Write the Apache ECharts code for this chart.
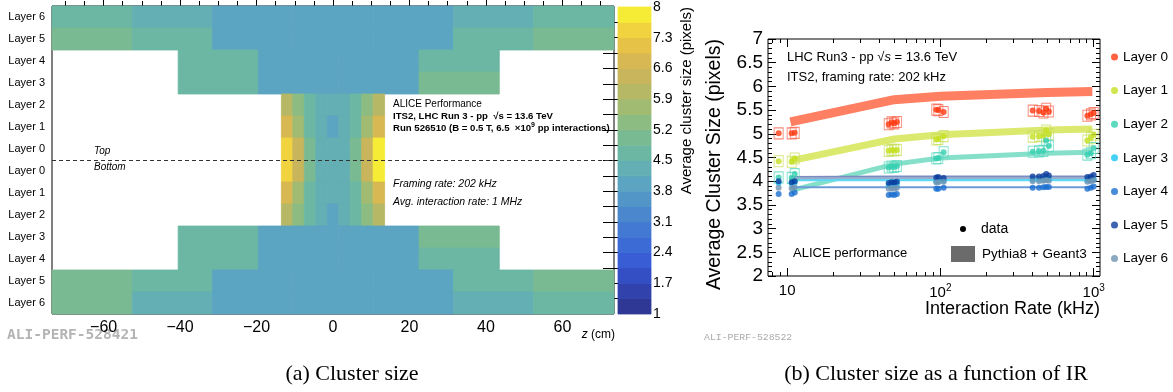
<!DOCTYPE html>
<html>
<head>
<meta charset="utf-8">
<script src="https://cdn.jsdelivr.net/npm/echarts@6.0.0/dist/echarts.min.js"></script>
<style>
  html, body { margin: 0; padding: 0; background: #fff; }
  #chart { width: 1173px; height: 392px; }
</style>
</head>
<body>
<div id="chart"></div>
<script>
// ---------- (a) taille moyenne des clusters, par couche et par z ----------

// lignes du haut vers le bas
const layerLabels = ['Layer 6', 'Layer 5', 'Layer 4', 'Layer 3', 'Layer 2', 'Layer 1', 'Layer 0',
                     'Layer 0', 'Layer 1', 'Layer 2', 'Layer 3', 'Layer 4', 'Layer 5', 'Layer 6'];

// bords des cellules en z (cm)
const edgesInner = [-13.5, -10.5, -7.5, -4.5, -1.5, 1.5, 4.5, 7.5, 10.5, 13.5];
const edgesMiddle = [-40.5, -19.5, 1.5, 22.5, 43.5];
const edgesOuter = [-73.5, -52.5, -31.5, -10.5, 10.5, 31.5, 52.5, 73.5];

// valeurs (pixels)
const top6 = [4.6, 4.3, 3.9, 3.9, 3.9, 4.3, 4.6];
const top5 = [5.0, 4.6, 3.9, 3.9, 3.9, 4.6, 5.0];
const top4 = [4.6, 3.9, 3.9, 4.6];
const top3 = [4.6, 3.9, 3.9, 5.0];
const top2 = [6.0, 5.4, 4.7, 4.2, 4.2, 4.2, 4.7, 5.4, 6.0];
const top1 = [6.8, 5.7, 4.7, 4.2, 3.9, 4.2, 4.7, 5.7, 6.8];
const top0 = [7.5, 6.4, 5.1, 4.3, 4.2, 4.4, 5.1, 6.4, 7.8];
const bottom0 = [7.5, 6.5, 5.1, 4.3, 4.2, 4.4, 5.1, 6.5, 7.8];
const bottom1 = [6.8, 5.7, 4.7, 4.2, 4.2, 4.2, 4.7, 5.7, 6.8];
const bottom2 = [6.0, 5.4, 4.7, 4.2, 3.9, 4.2, 4.7, 5.4, 6.0];
const bottom3 = [4.6, 3.9, 3.9, 5.0];
const bottom4 = [4.6, 3.9, 3.9, 4.6];
const bottom5 = [5.0, 4.6, 3.9, 3.9, 3.9, 4.6, 5.0];
const bottom6 = [5.0, 4.3, 3.9, 3.9, 3.9, 4.3, 4.6];

const zTicks = [-60, -40, -20, 0, 20, 40, 60];
const zMinorTicks = [-70, -65, -55, -50, -45, -35, -30, -25, -15, -10, -5, 5, 10, 15, 25, 30, 35, 45, 50, 55, 65, 70];

// échelle de couleurs (20 niveaux)
const scaleLevels = [1, 1.35, 1.7, 2.05, 2.4, 2.75, 3.1, 3.45, 3.8, 4.15, 4.5,
                     4.85, 5.2, 5.55, 5.9, 6.25, 6.6, 6.95, 7.3, 7.65, 8];
const scaleLabels = [1, 1.7, 2.4, 3.1, 3.8, 4.5, 5.2, 5.9, 6.6, 7.3, 8];
const scaleColors = ['#2f3995', '#3142ad', '#344fc4', '#385dd4', '#3d6bd6', '#4379d2', '#4a87cd',
                     '#5296c8', '#5ba4c2', '#63afb3', '#6bb7a3', '#7aba92', '#8cbc82', '#a2bb72',
                     '#b6b866', '#c8b55c', '#d8b852', '#e6c246', '#f0d33e', '#f7ec35'];

// ---------- (b) taille des clusters en fonction du taux d'interaction ----------

const layerNames = ['Layer 0', 'Layer 1', 'Layer 2', 'Layer 3', 'Layer 4', 'Layer 5', 'Layer 6'];

const dataRates = [8.8, 10.7, 11.2, 46, 48, 50, 52, 94, 97, 105, 400, 440, 470, 490, 510, 910, 960, 1000];
const dataL0 = [5.01, 5.01, 5.02, 5.20, 5.24, 5.22, 5.25, 5.51, 5.50, 5.46, 5.49, 5.48, 5.45, 5.53, 5.47, 5.38, 5.41, 5.44];
const dataL1 = [4.42, 4.41, 4.48, 4.64, 4.66, 4.65, 4.66, 4.88, 4.89, 4.95, 4.94, 4.95, 4.96, 5.07, 4.99, 4.86, 4.92, 4.98];
const dataL2 = [4.08, 4.07, 4.15, 4.29, 4.31, 4.30, 4.32, 4.48, 4.49, 4.61, 4.62, 4.63, 4.64, 4.86, 4.74, 4.56, 4.59, 4.70];
const dataL3 = [3.96, 3.95, 3.97, 3.92, 3.93, 3.92, 3.94, 4.00, 4.00, 4.01, 4.03, 4.03, 4.03, 4.05, 4.04, 4.02, 4.03, 4.04];
const dataL4 = [3.73, 3.73, 3.76, 3.71, 3.72, 3.71, 3.73, 3.84, 3.84, 3.86, 3.86, 3.86, 3.87, 3.88, 3.88, 3.84, 3.86, 3.89];
const dataL5 = [4.00, 3.98, 4.00, 3.96, 3.98, 3.97, 3.99, 4.08, 4.09, 4.07, 4.10, 4.10, 4.11, 4.15, 4.12, 4.09, 4.10, 4.13];
const dataL6 = [3.86, 3.85, 3.87, 3.84, 3.85, 3.84, 3.86, 3.97, 3.98, 3.99, 4.00, 4.00, 4.01, 4.02, 4.01, 3.99, 4.00, 4.02];

// simulation Pythia8 + Geant3
const mcRates = [10.5, 50, 100, 500, 980];
const mcL0 = [5.25, 5.72, 5.79, 5.87, 5.89];
const mcL1 = [4.43, 4.89, 4.98, 5.08, 5.10];
const mcL2 = [3.80, 4.36, 4.49, 4.59, 4.61];
const mcL3 = [4.03, 4.03, 4.03, 4.03, 4.03];
const mcL4 = [3.87, 3.87, 3.87, 3.87, 3.87];
const mcL5 = [4.08, 4.09, 4.09, 4.09, 4.09];
const mcL6 = [4.06, 4.07, 4.07, 4.07, 4.07];

const rateTicks = [10, 100, 1000];
const rateMinorTicks = [8, 9, 20, 30, 40, 50, 60, 70, 80, 90, 200, 300, 400, 500, 600, 700, 800, 900];

// styles
const layerColors = ['#ff3a12', '#c6e022', '#35d0b0', '#18c4f2', '#1a6ed0', '#0b3d9e', '#6f93b3'];
const boxColors = ['#f86a55', '#c8e060', '#5cd8c0'];
const bandColors = ['#ff7f62', '#dbe96e', '#86e0c9', '#5fd8f5', '#6a9ad8', '#7a8cc4', '#9aaccc'];
const bandWidths = [9, 7, 5, 3, 2, 3, 2];

const FONT = '"Liberation Sans", Arial, sans-serif';

// ---------- construction ----------

const rows = [
    [edgesOuter, top6], [edgesOuter, top5], [edgesMiddle, top4], [edgesMiddle, top3],
    [edgesInner, top2], [edgesInner, top1], [edgesInner, top0],
    [edgesInner, bottom0], [edgesInner, bottom1], [edgesInner, bottom2],
    [edgesMiddle, bottom3], [edgesMiddle, bottom4], [edgesOuter, bottom5], [edgesOuter, bottom6]
];

const heatCells = [];
rows.forEach(([edges, values], r) => {
    values.forEach((v, i) => heatCells.push([edges[i], edges[i + 1], r, v]));
});

// bandes de l'échelle : [bas, haut, -, milieu]
const scaleCells = scaleColors.map((c, i) =>
    [scaleLevels[i], scaleLevels[i + 1], 0, (scaleLevels[i] + scaleLevels[i + 1]) / 2]);

const pieces = scaleColors.map((c, i) => ({ gte: scaleLevels[i], lt: scaleLevels[i + 1], color: c }));
pieces[pieces.length - 1].lte = 8;
delete pieces[pieces.length - 1].lt;

// rectangle entre deux coins (le trait de la même couleur évite les jointures claires)
function cellRect(p0, p1, color) {
    return {
        type: 'rect',
        shape: {
            x: Math.min(p0[0], p1[0]), y: Math.min(p0[1], p1[1]),
            width: Math.abs(p1[0] - p0[0]), height: Math.abs(p1[1] - p0[1])
        },
        style: { fill: color, stroke: color, lineWidth: 0.8 }
    };
}

function renderHeatCell(params, api) {
    const p0 = api.coord([api.value(0), api.value(2)]);
    const p1 = api.coord([api.value(1), api.value(2) + 1]);
    return cellRect(p0, p1, api.visual('color'));
}

function renderScaleCell(params, api) {
    const p0 = api.coord([0, api.value(0)]);
    const p1 = api.coord([1, api.value(1)]);
    return cellRect(p0, p1, api.visual('color'));
}

const tickStyle = { color: '#000', width: 1 };

function zAxis(position, values, len, labels) {
    return {
        type: 'value', gridIndex: 0, position: position, min: -73.5, max: 73.5,
        axisLine: { show: false }, splitLine: { show: false },
        axisTick: { show: true, inside: true, length: len, customValues: values, lineStyle: tickStyle },
        axisLabel: labels ? {
            show: true, customValues: values, fontSize: 16, color: '#000', margin: 6, fontFamily: FONT,
            formatter: v => (v < 0 ? '\u2212' + (-v) : String(v))
        } : { show: false }
    };
}

function rateAxis(position, values, len, labels) {
    return {
        type: 'log', gridIndex: 2, position: position, min: 7.5, max: 1100, logBase: 10,
        axisLine: { show: false }, splitLine: { show: false },
        axisTick: { show: true, inside: true, length: len, customValues: values, lineStyle: tickStyle },
        axisLabel: labels ? {
            show: true, customValues: values, fontSize: 15, color: '#000', margin: 7, fontFamily: FONT,
            formatter: v => (v === 10 ? '10' : '10{sup|' + Math.round(Math.log10(v)) + '}'),
            rich: { sup: { fontSize: 10, verticalAlign: 'top', padding: [0, 0, 9, 0], fontFamily: FONT } }
        } : { show: false }
    };
}

function sizeAxis(position, labels) {
    return {
        type: 'value', gridIndex: 2, position: position, min: 2, max: 7, interval: 0.5,
        axisLine: { show: false }, splitLine: { show: false },
        axisTick: { show: true, inside: true, length: 8, lineStyle: tickStyle },
        minorTick: { show: true, splitNumber: 5, length: 4, lineStyle: tickStyle },
        axisLabel: labels ? { show: true, fontSize: 19, color: '#000', margin: 5, fontFamily: FONT } : { show: false }
    };
}

const series = [
    {
        type: 'custom', name: 'cluster size', xAxisIndex: 0, yAxisIndex: 0,
        renderItem: renderHeatCell, data: heatCells, encode: { x: [0, 1], y: 2 }, silent: true,
        markLine: {
            silent: true, symbol: ['none', 'none'], label: { show: false },
            lineStyle: { color: '#333', width: 1, type: [4, 3] },
            data: [{ yAxis: 7 }]
        }
    },
    {
        type: 'custom', name: 'scale', xAxisIndex: 4, yAxisIndex: 2,
        renderItem: renderScaleCell, data: scaleCells, encode: { y: [0, 1] }, silent: true
    }
];

const mcLayers = [mcL0, mcL1, mcL2, mcL3, mcL4, mcL5, mcL6];
mcLayers.forEach((vals, i) => {
    series.push({
        type: 'line', name: 'MC ' + layerNames[i], xAxisIndex: 5, yAxisIndex: 3,
        data: mcRates.map((r, k) => [r, vals[k]]), showSymbol: false, silent: true, z: 2,
        lineStyle: { width: bandWidths[i], color: bandColors[i], cap: 'butt', join: 'round' },
        itemStyle: { color: bandColors[i] }
    });
});

const dataLayers = [dataL0, dataL1, dataL2, dataL3, dataL4, dataL5, dataL6];
boxColors.forEach((c, i) => {
    series.push({
        type: 'scatter', name: 'syst ' + layerNames[i], xAxisIndex: 5, yAxisIndex: 3,
        data: dataRates.map((r, k) => [r, dataLayers[i][k]]), symbol: 'rect', symbolSize: [9, 11],
        itemStyle: { color: 'rgba(0,0,0,0)', borderColor: c, borderWidth: 1 }, silent: true, z: 3
    });
});
dataLayers.forEach((vals, i) => {
    series.push({
        type: 'scatter', name: layerNames[i], xAxisIndex: 5, yAxisIndex: 3,
        data: dataRates.map((r, k) => [r, vals[k]]), symbol: 'circle', symbolSize: 6,
        itemStyle: { color: layerColors[i] }, z: 4
    });
});

const option = {
    animation: false,
    backgroundColor: '#fff',
    textStyle: { fontFamily: FONT },
    grid: [
        { left: 52, top: 6, width: 562, height: 308, show: true, borderColor: '#000', borderWidth: 1, backgroundColor: 'transparent' },
        { left: 618, top: 6, width: 33, height: 308, show: false },
        { left: 768, top: 39, width: 332, height: 237, show: true, borderColor: '#000', borderWidth: 1, backgroundColor: 'transparent' }
    ],
    xAxis: [
        zAxis('bottom', zTicks, 9, true),
        zAxis('bottom', zMinorTicks, 5, false),
        zAxis('top', zTicks, 9, false),
        zAxis('top', zMinorTicks, 5, false),
        { type: 'value', gridIndex: 1, min: 0, max: 1, show: false },
        rateAxis('bottom', rateTicks, 8, true),
        rateAxis('bottom', rateMinorTicks, 4, false),
        rateAxis('top', rateTicks, 8, false),
        rateAxis('top', rateMinorTicks, 4, false)
    ],
    yAxis: [
        {
            type: 'value', gridIndex: 0, position: 'left', min: 0, max: 14, inverse: true,
            axisLine: { show: false }, splitLine: { show: false },
            axisTick: { show: true, inside: true, length: 8, customValues: [1, 2, 3, 4, 5, 6, 7, 8, 9, 10, 11, 12, 13], lineStyle: tickStyle },
            axisLabel: {
                show: true, fontSize: 11, color: '#000', margin: 7, fontFamily: FONT,
                customValues: [0.5, 1.5, 2.5, 3.5, 4.5, 5.5, 6.5, 7.5, 8.5, 9.5, 10.5, 11.5, 12.5, 13.5],
                formatter: v => layerLabels[Math.floor(v)]
            }
        },
        {
            type: 'value', gridIndex: 0, position: 'right', min: 0, max: 14, inverse: true,
            axisLine: { show: false }, splitLine: { show: false },
            axisTick: { show: true, inside: true, length: 8, customValues: [1, 2, 3, 4, 5, 6, 7, 8, 9, 10, 11, 12, 13], lineStyle: tickStyle },
            axisLabel: { show: false }
        },
        {
            type: 'value', gridIndex: 1, position: 'right', min: 1, max: 8,
            axisLine: { show: false }, splitLine: { show: false },
            axisTick: { show: true, inside: true, length: 15, customValues: scaleLevels.slice(1, -1), lineStyle: tickStyle },
            axisLabel: { show: true, customValues: scaleLabels, fontSize: 14, color: '#000', margin: 2, fontFamily: FONT }
        },
        sizeAxis('left', true),
        sizeAxis('right', false)
    ],
    visualMap: {
        type: 'piecewise', show: false, dimension: 3, seriesIndex: [0, 1], pieces: pieces
    },
    legend: {
        data: layerNames, orient: 'vertical', left: 1111, top: 50, padding: 0,
        icon: 'circle', itemWidth: 7, itemHeight: 7, itemGap: 19.6,
        textStyle: { fontSize: 13.5, color: '#000', fontFamily: FONT }
    },
    series: series,
    graphic: [
        { type: 'text', x: 393, y: 104, style: { text: 'ALICE Performance', fontSize: 10, fontFamily: FONT, fill: '#000', verticalAlign: 'middle' } },
        { type: 'text', x: 393, y: 116, style: { text: 'ITS2, LHC Run 3 - pp  \u221As = 13.6 TeV', fontSize: 9.6, fontWeight: 'bold', fontFamily: FONT, fill: '#000', verticalAlign: 'middle' } },
        {
            type: 'text', x: 393, y: 128, style: {
                text: 'Run 526510 (B = 0.5 T, 6.5  \u00d710{sup|9} pp interactions)', fontSize: 9.6, fontWeight: 'bold', fontFamily: FONT, fill: '#000', verticalAlign: 'middle',
                rich: { sup: { fontSize: 7, fontWeight: 'bold', fontFamily: FONT, verticalAlign: 'top', padding: [0, 0, 5, 0] } }
            }
        },
        { type: 'text', x: 393, y: 184, style: { text: 'Framing rate: 202 kHz', fontSize: 10.5, fontStyle: 'italic', fontFamily: FONT, fill: '#000', verticalAlign: 'middle' } },
        { type: 'text', x: 393, y: 202, style: { text: 'Avg. interaction rate: 1 MHz', fontSize: 10.5, fontStyle: 'italic', fontFamily: FONT, fill: '#000', verticalAlign: 'middle' } },
        { type: 'text', x: 94, y: 151, style: { text: 'Top', fontSize: 10, fontStyle: 'italic', fontFamily: FONT, fill: '#000', verticalAlign: 'middle' } },
        { type: 'text', x: 94, y: 167, style: { text: 'Bottom', fontSize: 10, fontStyle: 'italic', fontFamily: FONT, fill: '#000', verticalAlign: 'middle' } },
        {
            type: 'text', x: 615, y: 335, style: {
                text: '{i|z} (cm)', fontSize: 12, fontFamily: FONT, fill: '#000', align: 'right', verticalAlign: 'middle',
                rich: { i: { fontSize: 12, fontStyle: 'italic', fontFamily: FONT } }
            }
        },
        { type: 'text', x: 7, y: 335, style: { text: 'ALI-PERF-528421', fontSize: 14.5, fontWeight: 'bold', fontFamily: '"DejaVu Sans Mono", monospace', fill: '#b4b4b4', verticalAlign: 'middle' } },
        { type: 'text', x: 687, y: 7, rotation: Math.PI / 2, style: { text: 'Average cluster size (pixels)', fontSize: 15, fontFamily: FONT, fill: '#000', align: 'right', verticalAlign: 'middle' } },
        { type: 'text', x: 715, y: 39, rotation: Math.PI / 2, style: { text: 'Average Cluster Size (pixels)', fontSize: 19.5, fontFamily: FONT, fill: '#000', align: 'right', verticalAlign: 'middle' } },
        { type: 'text', x: 1100, y: 309, style: { text: 'Interaction Rate (kHz)', fontSize: 18, fontFamily: FONT, fill: '#000', align: 'right', verticalAlign: 'middle' } },
        {
            type: 'text', x: 787, y: 57, style: {
                text: 'LHC Run3 - pp \u221A{i|s} = 13.6 TeV', fontSize: 13, fontFamily: FONT, fill: '#000', verticalAlign: 'middle',
                rich: { i: { fontSize: 13, fontStyle: 'italic', fontFamily: FONT } }
            }
        },
        { type: 'text', x: 787, y: 77, style: { text: 'ITS2, framing rate: 202 kHz', fontSize: 13, fontFamily: FONT, fill: '#000', verticalAlign: 'middle' } },
        { type: 'text', x: 793, y: 253, style: { text: 'ALICE performance', fontSize: 13, fontFamily: FONT, fill: '#000', verticalAlign: 'middle' } },
        { type: 'circle', shape: { cx: 963, cy: 229, r: 3 }, style: { fill: '#000' } },
        { type: 'text', x: 981, y: 229, style: { text: 'data', fontSize: 14, fontFamily: FONT, fill: '#000', verticalAlign: 'middle' } },
        { type: 'rect', shape: { x: 951, y: 246, width: 24, height: 16 }, style: { fill: '#6b6b6b' } },
        { type: 'text', x: 982, y: 254, style: { text: 'Pythia8 + Geant3', fontSize: 13.5, fontFamily: FONT, fill: '#000', verticalAlign: 'middle' } },
        { type: 'text', x: 704, y: 337, style: { text: 'ALI-PERF-528522', fontSize: 9.8, fontFamily: '"Liberation Mono", monospace', fill: '#aaaaaa', verticalAlign: 'middle' } },
        { type: 'text', x: 352, y: 374, style: { text: '(a) Cluster size', fontSize: 22, fontFamily: '"Liberation Serif", serif', fill: '#000', align: 'center', verticalAlign: 'middle' } },
        { type: 'text', x: 936, y: 374, style: { text: '(b) Cluster size as a function of IR', fontSize: 22, fontFamily: '"Liberation Serif", serif', fill: '#000', align: 'center', verticalAlign: 'middle' } }
    ]
};

const chart = echarts.init(document.getElementById('chart'));
chart.setOption(option);
</script>
</body>
</html>
